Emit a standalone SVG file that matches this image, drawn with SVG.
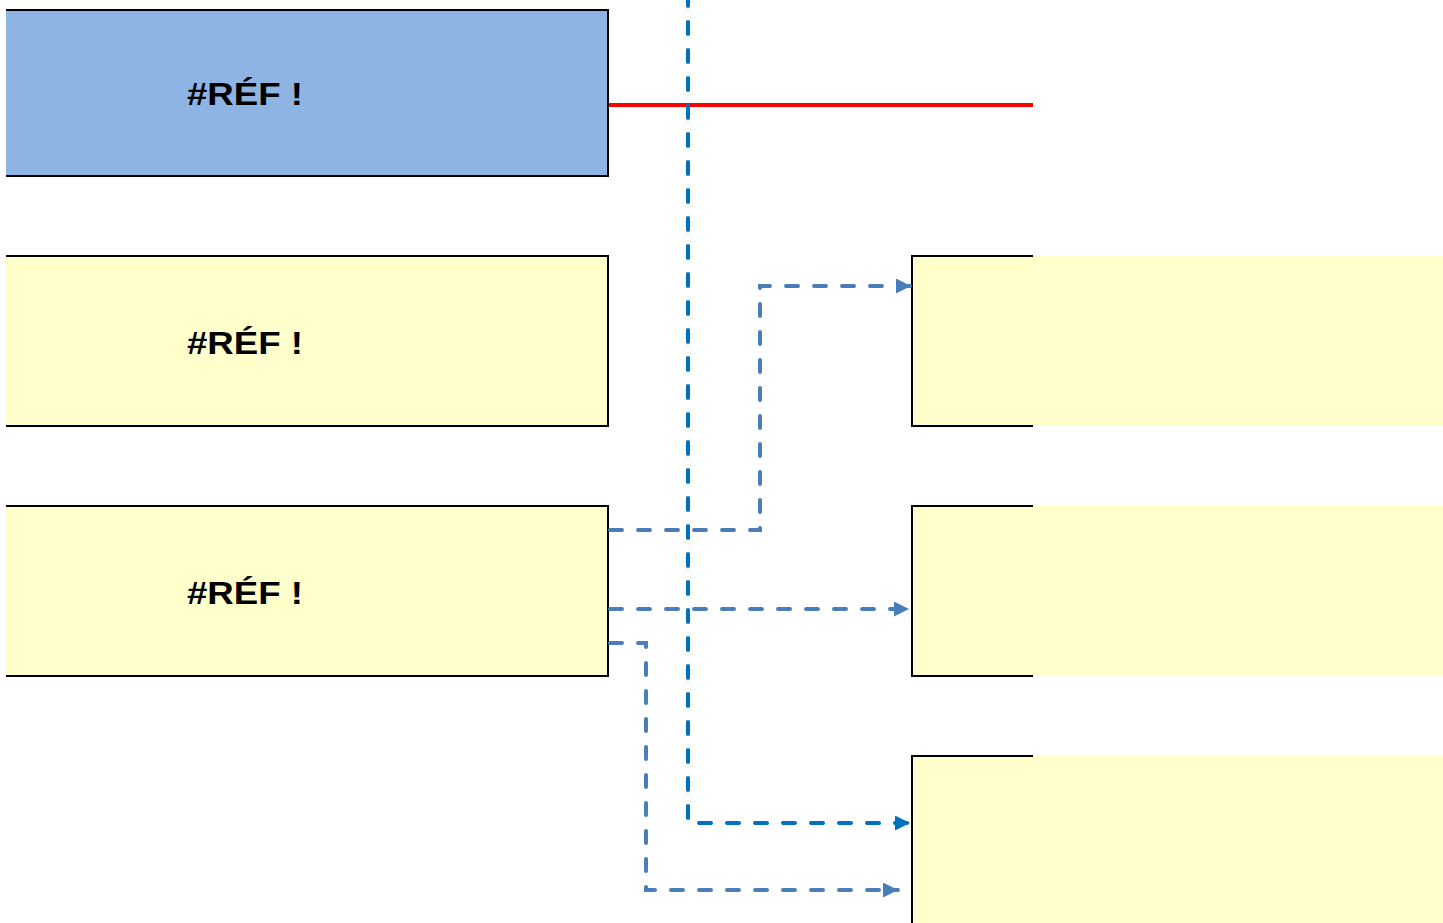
<svg xmlns="http://www.w3.org/2000/svg" width="1443" height="923" viewBox="0 0 1443 923">
<style>
.lbl{font-family:"Liberation Sans",Arial,sans-serif;font-weight:bold;font-size:31px;fill:#000;text-anchor:middle}
.edge{stroke:#000;stroke-width:2;fill:none}
.c1{stroke:#0070C0;stroke-width:4;fill:none;stroke-dasharray:12 16;stroke-linecap:round}
.c2{stroke:#4A7EBB;stroke-width:4;fill:none;stroke-dasharray:12 16;stroke-linecap:round}
</style>
<defs>
<marker id="a1" markerUnits="userSpaceOnUse" markerWidth="16" markerHeight="16" refX="15" refY="7.5" orient="auto"><path d="M0 0 L15 7.5 L0 15 Z" fill="#0070C0"/></marker>
<marker id="a2" markerUnits="userSpaceOnUse" markerWidth="16" markerHeight="16" refX="15" refY="7.5" orient="auto"><path d="M0 0 L15 7.5 L0 15 Z" fill="#4A7EBB"/></marker>
</defs>
<rect width="1443" height="923" fill="#fff"/>
<g id="n1">
<rect x="6" y="10" width="602" height="166" fill="#8EB4E3"/>
<path class="edge" d="M6 10 H608 V176 H6"/>
<text class="lbl" x="245" y="105" textLength="116" lengthAdjust="spacingAndGlyphs">#RÉF !</text>
</g>
<g id="n2">
<rect x="6" y="256" width="602" height="170" fill="#FFFFCC"/>
<path class="edge" d="M6 256 H608 V426 H6"/>
<text class="lbl" x="245" y="354" textLength="116" lengthAdjust="spacingAndGlyphs">#RÉF !</text>
</g>
<g id="n3">
<rect x="6" y="506" width="602" height="170" fill="#FFFFCC"/>
<path class="edge" d="M6 506 H608 V676 H6"/>
<text class="lbl" x="245" y="604" textLength="116" lengthAdjust="spacingAndGlyphs">#RÉF !</text>
</g>
<g id="n4">
<rect x="912" y="256" width="531" height="170" fill="#FFFFCC"/>
<path class="edge" d="M1033 256 H912 V426 H1033"/>
</g>
<g id="n5">
<rect x="912" y="506" width="531" height="170" fill="#FFFFCC"/>
<path class="edge" d="M1033 506 H912 V676 H1033"/>
</g>
<g id="n6">
<rect x="912" y="756" width="531" height="170" fill="#FFFFCC"/>
<path class="edge" d="M1033 756 H912 V926"/>
</g>
<g id="connectors">
<line x1="609" y1="105" x2="1033" y2="105" stroke="#FF0000" stroke-width="4"/>
<path class="c1" d="M688 -6 V823 H910" marker-end="url(#a1)"/>
<path class="c2" d="M610 530 H760 V286 H911" marker-end="url(#a2)"/>
<path class="c2" d="M610 609 H909" marker-end="url(#a2)"/>
<path class="c2" d="M610 643 H646 V890 H898" marker-end="url(#a2)"/>
</g>
</svg>
